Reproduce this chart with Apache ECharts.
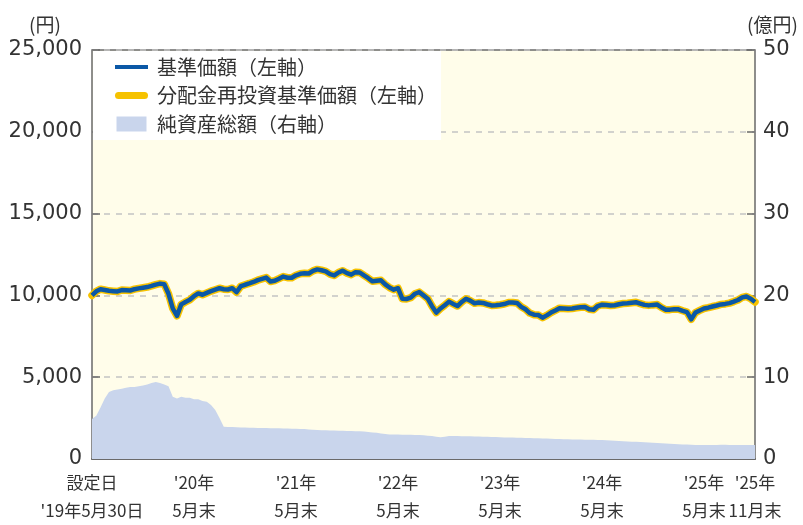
<!DOCTYPE html>
<html>
<head>
<meta charset="utf-8">
<script src="https://cdn.jsdelivr.net/npm/echarts@6/dist/echarts.min.js"></script>
<style>html,body{margin:0;padding:0;background:#fff;}#c{width:803px;height:525px;}</style>
</head>
<body>
<div id="c"></div>
<script>
// semi-monthly categories from launch date (2019-05-30) to 2025-11-30
const startDate = '2019-05-30';
const categories = [startDate];
for (let y = 2019; y <= 2025; y++) {
  for (let m = 1; m <= 12; m++) {
    if (y === 2019 && m < 6) continue;
    if (y === 2025 && m > 11) continue;
    const mm = String(m).padStart(2, '0');
    const last = new Date(y, m, 0).getDate();
    categories.push(`${y}-${mm}-15`, `${y}-${mm}-${last}`);
  }
}

const tickDates = ['2019-05-30','2020-05-31','2021-05-31','2022-05-31','2023-05-31','2024-05-31','2025-05-31','2025-11-30'];
const tickLabels = ["設定日\n'19年5月30日","'20年\n5月末","'21年\n5月末","'22年\n5月末","'23年\n5月末","'24年\n5月末","'25年\n5月末","'25年\n11月末"];

// 基準価額 (円)
const navValues = [
  10000,10250,10380,10330,10280,10260,10240,10330,10320,10300,
  10380,10430,10470,10510,10580,10660,10720,10680,10100,9200,
  8750,9450,9600,9730,9950,10120,10040,10150,10260,10350,
  10440,10380,10360,10440,10200,10560,10650,10730,10820,10930,
  11010,11090,10850,10900,11020,11150,11080,11080,11230,11320,
  11350,11340,11500,11590,11540,11470,11300,11220,11400,11510,
  11360,11270,11420,11400,11220,11050,10860,10900,10920,10670,
  10480,10350,10440,9800,9780,9860,10100,10200,10000,9800,
  9340,8950,9200,9400,9620,9480,9350,9600,9800,9680,
  9520,9560,9540,9460,9390,9400,9430,9470,9560,9570,
  9540,9300,9150,8920,8820,8800,8640,8780,8950,9080,
  9220,9200,9180,9200,9240,9280,9290,9150,9120,9350,
  9430,9410,9380,9400,9460,9500,9520,9550,9580,9500,
  9420,9390,9420,9440,9260,9120,9130,9160,9150,9060,
  8980,8540,8950,9080,9200,9250,9320,9380,9450,9480,
  9530,9620,9720,9880,9930,9800,9600
];
// 分配金再投資基準価額 (円) — no distributions, same as NAV
const reinvestValues = navValues.slice();

// 純資産総額 (億円)
const assetValues = [
  4.9,5.3,6.3,7.4,8.2,8.4,8.5,8.6,8.7,8.8,8.8,8.9,9.0,9.1,9.3,9.4,9.3,9.1,8.9,7.6,7.4,7.6,7.5,7.5,7.3,7.3,7.1,7.0,6.6,6.0,5.0,3.95,3.9,
  3.9,3.88,3.85,3.85,3.83,3.82,3.8,3.8,3.78,3.77,3.76,3.75,3.73,3.72,3.7,
  3.7,3.68,3.66,3.62,3.58,3.55,3.5,
  3.5,3.48,3.47,3.46,3.45,3.43,3.42,3.4,
  3.38,3.35,3.3,3.25,3.2,3.12,3.06,3.0,
  3.0,2.98,2.97,2.96,2.95,2.93,2.92,2.9,
  2.85,2.8,2.72,2.65,
  2.72,2.8,
  2.8,2.8,2.79,2.78,2.77,2.76,2.74,2.73,2.72,2.7,2.68,2.65,
  2.64,2.63,2.62,2.6,2.59,2.58,2.56,2.55,2.53,2.52,2.5,2.48,2.46,2.44,2.42,2.4,
  2.39,2.38,2.37,2.36,2.35,2.34,2.33,2.31,2.29,2.27,2.24,2.2,
  2.18,2.15,2.12,2.1,2.07,2.04,2.01,1.98,1.95,1.92,1.9,
  1.87,1.84,1.81,1.78,1.76,1.74,1.72,1.7,
  1.7,1.71,1.72,1.72,1.73,1.73,1.72,1.72,1.71,1.71,1.7,1.7,1.7
];

const leftTicks = [0, 5000, 10000, 15000, 20000, 25000];
const rightTicks = [0, 10, 20, 30, 40, 50];

const FONT = '"Noto Sans CJK JP", "Noto Sans", sans-serif';
const NUMFONT = '"DejaVu Sans", "Noto Sans CJK JP", sans-serif';
const tickIdx = tickDates.map(d => categories.indexOf(d));
const labelOf = {};
tickIdx.forEach((ix, k) => { labelOf[categories[ix]] = tickLabels[k]; });

const BLUE = '#0b58a6', YELLOW = '#f6c200', AREA = '#c9d5ec';

const chart = echarts.init(document.getElementById('c'));
chart.setOption({
  animation: false,
  textStyle: { fontFamily: FONT },
  grid: {
    left: 92, right: 48, top: 50, bottom: 60,
    show: true, backgroundColor: '#fffdea', borderColor: '#6a6a6a', borderWidth: 1.5
  },
  legend: {
    orient: 'vertical', left: 93, top: 51,
    backgroundColor: '#ffffff',
    padding: [6, 4, 6, 22],
    itemWidth: 33, itemHeight: 15, itemGap: 8.5,
    textStyle: { fontSize: 20, color: '#333', fontFamily: FONT, padding: [0, 0, 0, 4] },
    data: [
      { name: '基準価額（左軸）', icon: 'path://M0,0 L33,0 L33,4 L0,4 Z', itemStyle: { color: BLUE, borderWidth: 0 } },
      { name: '分配金再投資基準価額（左軸）', icon: 'path://M3.5,0 L29.5,0 A3.5,3.5 0 0 1 29.5,7 L3.5,7 A3.5,3.5 0 0 1 3.5,0 Z', itemStyle: { color: YELLOW, borderWidth: 0 } },
      { name: '純資産総額（右軸）', icon: 'path://M0,0 L30,0 L30,15 L0,15 Z', itemStyle: { color: AREA, borderWidth: 0 } }
    ]
  },
  xAxis: {
    type: 'category', data: categories, boundaryGap: false,
    axisLine: { show: true, lineStyle: { color: '#6a6a6a', width: 2 } },
    axisTick: {
      show: true, inside: true, length: 10, alignWithLabel: true,
      interval: (i) => tickIdx.includes(i) && i !== 0 && i !== categories.length - 1,
      lineStyle: { color: '#6a6a6a', width: 1.5 }
    },
    axisLabel: {
      interval: (i) => tickIdx.includes(i),
      formatter: (v) => labelOf[v] || '',
      fontSize: 17, lineHeight: 28, color: '#333', margin: 10, fontFamily: FONT
    },
    splitLine: { show: false }
  },
  yAxis: [
    {
      type: 'value', min: leftTicks[0], max: leftTicks[leftTicks.length - 1], interval: 5000,
      axisLine: { show: false },
      axisTick: { show: true, inside: true, length: 8, lineStyle: { color: '#6a6a6a', width: 1.5 } },
      axisLabel: { fontSize: 21, color: '#333', margin: 10, fontFamily: NUMFONT,
        formatter: (v) => v.toLocaleString('en-US') },
      splitLine: { show: true, lineStyle: { color: '#c4c4c4', type: [6, 6], width: 1.5 } }
    },
    {
      type: 'value', min: rightTicks[0], max: rightTicks[rightTicks.length - 1], interval: 10,
      position: 'right',
      axisLine: { show: false },
      axisTick: { show: true, inside: true, length: 8, lineStyle: { color: '#6a6a6a', width: 1.5 } },
      axisLabel: { fontSize: 21, color: '#333', margin: 8, fontFamily: NUMFONT },
      splitLine: { show: false }
    }
  ],
  graphic: [
    { type: 'text', left: 29, top: 15, style: { text: '(円)', fill: '#333', font: '19px ' + FONT } },
    { type: 'text', left: 747, top: 15, style: { text: '(億円)', fill: '#333', font: '19px ' + FONT } }
  ],
  series: [
    {
      name: '純資産総額（右軸）', type: 'line', yAxisIndex: 1, data: assetValues,
      symbol: 'none', lineStyle: { width: 0 }, itemStyle: { color: AREA },
      areaStyle: { color: AREA, opacity: 1 }, z: 1
    },
    {
      name: '分配金再投資基準価額（左軸）', type: 'line', yAxisIndex: 0, data: reinvestValues,
      symbol: 'none', lineStyle: { width: 7.5, color: YELLOW, join: 'round', cap: 'round' },
      itemStyle: { color: YELLOW }, z: 3
    },
    {
      name: '基準価額（左軸）', type: 'line', yAxisIndex: 0, data: navValues,
      symbol: 'none', lineStyle: { width: 4.5, color: BLUE, join: 'round' },
      itemStyle: { color: BLUE }, z: 4
    }
  ]
});
</script>
</body>
</html>
